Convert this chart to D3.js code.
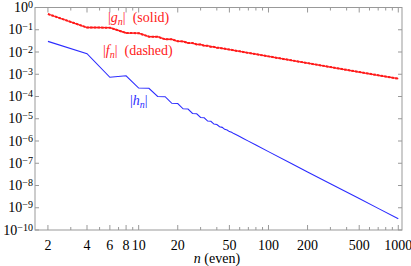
<!DOCTYPE html>
<html>
<head>
<meta charset="utf-8">
<script src="https://cdn.jsdelivr.net/npm/d3@7"></script>
<style>
  body { margin: 0; background: #fff; }
  svg { display: block; }
</style>
</head>
<body>
<svg id="chart" width="411" height="266" font-family="'Liberation Serif', 'Times New Roman', 'DejaVu Serif', serif"></svg>
<script>
(function () {
  "use strict";

  // |g_n| (solid) and |f_n| (dashed) lie on top of each other
  const gN = [2, 4, 6, 8, 10, 12, 14, 16, 18, 20, 22, 24, 26, 28, 30, 32, 34, 36, 38, 40, 42,
    50, 60, 70, 80, 100, 150, 200, 300, 500, 700, 1000];
  const gValues = [0.51, 0.126, 0.124, 0.0715, 0.070, 0.0490, 0.0485, 0.0374, 0.0371, 0.0302, 0.0300,
    0.0254, 0.0252, 0.0219, 0.0217, 0.0193, 0.0191, 0.0172, 0.0170, 0.0155, 0.0153,
    0.0129, 0.0107, 0.0091, 0.0080, 0.00636, 0.00423, 0.00317, 0.00211, 0.00126, 0.0009, 0.00063];
  const fN = gN;
  const fValues = [0.51, 0.126, 0.124, 0.0715, 0.070, 0.0490, 0.0485, 0.0374, 0.0371, 0.0302, 0.0300,
    0.0254, 0.0252, 0.0219, 0.0217, 0.0193, 0.0191, 0.0172, 0.0170, 0.0155, 0.0153,
    0.0129, 0.0107, 0.0091, 0.0080, 0.00636, 0.00423, 0.00317, 0.00211, 0.00126, 0.0009, 0.00063];

  const hN = [2, 4, 6, 8, 10, 12, 14, 16, 18, 20, 22, 24, 26, 28, 30, 32, 34, 36, 38, 40,
    42, 44, 46, 48, 50, 52, 54, 56, 58, 60, 64, 70, 80, 100, 150, 200, 300, 500, 700, 1000];
  const hValues = [0.030, 0.0084, 7.3e-4, 8.5e-4, 2.4e-4, 2.35e-4, 1.0e-4, 9.8e-5, 4.95e-5, 4.85e-5,
    2.8e-5, 2.74e-5, 1.72e-5, 1.68e-5, 1.14e-5, 1.106e-5, 7.9e-6, 7.66e-6, 5.75e-6, 5.52e-6,
    4.35e-6, 4.11e-6, 3.35e-6, 3.14e-6, 2.65e-6, 2.455e-6, 2.15e-6, 1.955e-6, 1.76e-6, 1.582e-6,
    1.30e-6, 9.87e-7, 6.56e-7, 3.33e-7, 9.73e-8, 4.08e-8, 1.20e-8, 2.58e-9, 9.38e-10, 3.21e-10];

  const xMajorTicks = [2, 4, 6, 8, 10, 20, 50, 100, 200, 500, 1000];
  const xMinorTicks = [3, 5, 7, 9, 30, 40, 60, 70, 80, 90, 300, 400, 600, 700, 800, 900];
  const yTickExponents = [0, -1, -2, -3, -4, -5, -6, -7, -8, -9, -10];

  const left = 35, right = 402, top = 7.5, bottom = 230;
  const frameColor = "#999";
  const red = "#ff1a1a";
  const blue = "#2b2bff";

  const svg = d3.select("#chart");

  const x = d3.scaleLog().domain([1.59, 1068]).range([left, right]);
  const y = d3.scaleLog().domain([1e-10, 1]).range([bottom, top]);

  function zip(ns, vs) {
    return ns.map((n, i) => ({ n, v: vs[i] }));
  }

  // frame
  svg.append("rect")
    .attr("x", left).attr("y", top)
    .attr("width", right - left).attr("height", bottom - top)
    .attr("fill", "none").attr("stroke", frameColor).attr("stroke-width", 1);

  const ticks = svg.append("g").attr("stroke", frameColor).attr("stroke-width", 1);

  xMajorTicks.forEach((t) => {
    const px = x(t);
    ticks.append("line").attr("x1", px).attr("x2", px).attr("y1", bottom).attr("y2", bottom - 5);
    ticks.append("line").attr("x1", px).attr("x2", px).attr("y1", top).attr("y2", top + 5);
  });
  xMinorTicks.forEach((t) => {
    const px = x(t);
    ticks.append("line").attr("x1", px).attr("x2", px).attr("y1", bottom).attr("y2", bottom - 3);
    ticks.append("line").attr("x1", px).attr("x2", px).attr("y1", top).attr("y2", top + 3);
  });
  yTickExponents.forEach((e) => {
    const py = y(Math.pow(10, e));
    ticks.append("line").attr("x1", left).attr("x2", left + 4).attr("y1", py).attr("y2", py);
    ticks.append("line").attr("x1", right).attr("x2", right - 4).attr("y1", py).attr("y2", py);
  });

  // x tick labels
  svg.append("g")
    .selectAll("text")
    .data(xMajorTicks)
    .join("text")
    .attr("x", (d) => x(d))
    .attr("y", 250)
    .attr("text-anchor", "middle")
    .attr("font-size", 14)
    .attr("fill", "#000")
    .text((d) => d);

  // y tick labels
  const yLabels = svg.append("g")
    .selectAll("text")
    .data(yTickExponents)
    .join("text")
    .attr("x", 33)
    .attr("y", (d) => y(Math.pow(10, d)) + 4.5)
    .attr("text-anchor", "end")
    .attr("font-size", 14)
    .attr("fill", "#000");
  yLabels.append("tspan").text("10");
  yLabels.append("tspan")
    .attr("dy", -4)
    .attr("font-size", 10)
    .text((d) => (d < 0 ? "\u2212" + (-d) : String(d)));

  // axis title
  const xTitle = svg.append("text")
    .attr("x", 217).attr("y", 262.5)
    .attr("text-anchor", "middle")
    .attr("font-size", 14)
    .attr("fill", "#000");
  xTitle.append("tspan").attr("font-style", "italic").text("n");
  xTitle.append("tspan").text(" (even)");

  const line = d3.line().x((d) => x(d.n)).y((d) => y(d.v));

  svg.append("path")
    .datum(zip(hN, hValues))
    .attr("fill", "none")
    .attr("stroke", blue)
    .attr("stroke-width", 1.1)
    .attr("d", line);

  svg.append("path")
    .datum(zip(gN, gValues))
    .attr("fill", "none")
    .attr("stroke", red)
    .attr("stroke-width", 1.3)
    .attr("d", line);

  svg.append("path")
    .datum(zip(fN, fValues))
    .attr("fill", "none")
    .attr("stroke", red)
    .attr("stroke-width", 2)
    .attr("stroke-dasharray", "2.5,1.2")
    .attr("d", line);

  // series labels
  function seriesLabel(px, py, letter, extra, color) {
    const t = svg.append("text")
      .attr("x", px).attr("y", py)
      .attr("font-size", 14)
      .attr("fill", color);
    t.append("tspan").text("|");
    t.append("tspan").attr("font-style", "italic").text(letter);
    t.append("tspan").attr("font-style", "italic").attr("font-size", 10).attr("dy", 2.5).text("n");
    t.append("tspan").attr("dy", -2.5).text("|");
    if (extra) {
      t.append("tspan").attr("dx", 7).text(extra);
    }
  }

  seriesLabel(108, 22, "g", "(solid)", red);
  seriesLabel(103, 55, "f", "(dashed)", red);
  seriesLabel(130, 105, "h", "", blue);
})();
</script>
</body>
</html>
